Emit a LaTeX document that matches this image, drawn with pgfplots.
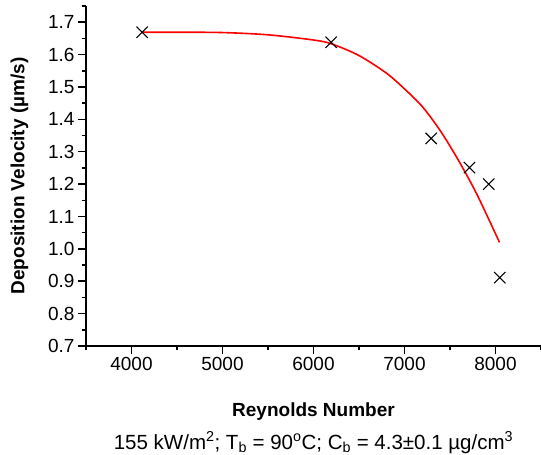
\documentclass[border=0pt]{standalone}
\usepackage{fontspec}
\setmainfont{Liberation Sans}
\usepackage{pgfplots}
\pgfplotsset{compat=1.18}
\begin{document}
\begin{tikzpicture}
\useasboundingbox (-86pt,-109pt) rectangle (455pt,346pt);
\begin{axis}[
    scale only axis,
    width=455pt, height=340pt,
    xmin=3500, xmax=8500,
    ymin=0.7, ymax=1.75,
    axis x line*=bottom,
    axis y line*=left,
    axis line style={line width=1.5pt},
    xtick={4000,5000,6000,7000,8000},
    minor xtick={3500,4500,5500,6500,7500,8500},
    ytick={0.7,0.8,0.9,1.0,1.1,1.2,1.3,1.4,1.5,1.6,1.7},
    minor ytick={0.75,0.85,0.95,1.05,1.15,1.25,1.35,1.45,1.55,1.65,1.75},
    tick align=outside,
    major tick length=8pt,
    minor tick length=4pt,
    every tick/.style={black, line width=1.5pt},
    /pgf/number format/assume math mode=true,
    x tick label style={/pgf/number format/1000 sep={}},
    y tick label style={/pgf/number format/fixed, /pgf/number format/fixed zerofill, /pgf/number format/precision=1},
    tick label style={font=\fontsize{19}{22}\selectfont},
    xlabel={Reynolds Number},
    ylabel={Deposition Velocity (µm/s)},
    every axis x label/.style={at={(axis description cs:0.5,-0.2088)}, anchor=base,
        font=\fontsize{19}{22}\selectfont\bfseries},
    every axis y label/.style={at={(axis description cs:-0.1462,0.5)}, rotate=90, anchor=center,
        font=\fontsize{19}{22}\selectfont\bfseries},
    clip=false,
]
\addplot[red, line width=1.6pt, smooth] coordinates {
    (4120,1.669) (4500,1.669) (5000,1.668) (5500,1.661) (6000,1.645)
    (6200,1.633) (6500,1.597) (6800,1.543) (7000,1.494) (7200,1.438)
    (7400,1.362) (7600,1.270) (7800,1.166) (8044,1.020)
};
\addplot[only marks, mark=x, mark size=8pt, black, line width=1.1pt] coordinates {
    (4117,1.669) (6194,1.638) (7293,1.341) (7714,1.251) (7926,1.200) (8047,0.911)
};
\node[anchor=base, font=\fontsize{20.5}{24}\selectfont] at (axis description cs:0.5,-0.303)
    {155 kW/m\textsuperscript{2}; T\textsubscript{b} = 90\textsuperscript{o}C; C\textsubscript{b} = 4.3±0.1 µg/cm\textsuperscript{3}};
\end{axis}
\end{tikzpicture}
\end{document}
